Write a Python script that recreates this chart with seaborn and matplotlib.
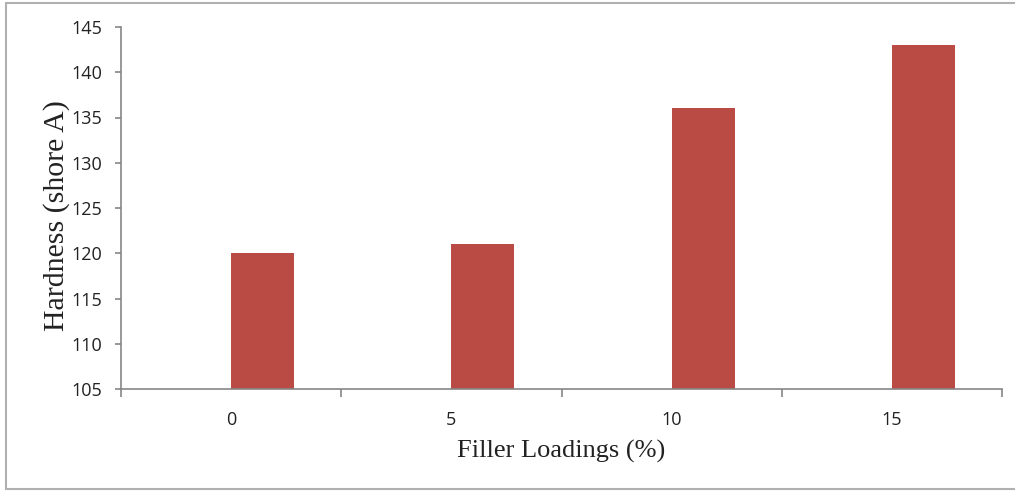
import numpy as np
import pandas as pd
import matplotlib.pyplot as plt
import seaborn as sns
from matplotlib.lines import Line2D

loadings = ['0', '5', '10', '15']
hardness = [120, 121, 136, 143]

df = pd.DataFrame({'Filler': loadings, 'Hardness': hardness, 'series': 'Hardness'})

sns.set_style('white')
fig = plt.figure(figsize=(10.15, 4.91), dpi=100)
ax = fig.add_axes([121 / 1015, 1 - 389 / 491, 881 / 1015, 362 / 491])

# empty first series so the bar sits right of the category centre (Excel look)
sns.barplot(data=df, x='Filler', y='Hardness', hue='series', dodge=True,
            hue_order=['blank', 'Hardness'], palette={'blank': 'white', 'Hardness': '#B94A44'},
            width=0.572, saturation=1, legend=False, ax=ax, linewidth=0)

ax.set_ylim(105, 145)
ax.set_yticks(np.arange(105, 146, 5))
ax.set_xlim(-0.5, 3.5)

for s in ['top', 'right']:
    ax.spines[s].set_visible(False)
for s in ['left', 'bottom']:
    ax.spines[s].set_color('#868686')
    ax.spines[s].set_linewidth(1.2)

ax.tick_params(axis='y', left=True, length=4.5, width=1.2, color='#868686', pad=9, labelsize=13)
ax.tick_params(axis='x', bottom=False, pad=12, labelsize=13)
for lab in ax.get_xticklabels() + ax.get_yticklabels():
    lab.set_fontfamily('Open Sans')
    lab.set_color('#222222')

# boundary ticks between categories
ax.set_xticks(np.arange(-0.5, 3.6, 1), minor=True)
ax.tick_params(axis='x', which='minor', bottom=True, length=6, color='#868686', width=1.2)

ax.set_xlabel('Filler Loadings (%)', family='Liberation Serif', size=19, color='#222222')
ax.set_ylabel('Hardness (shore A)', family='Liberation Serif', size=21.5, color='#222222')
ax.xaxis.set_label_coords(0.5, -0.14)
ax.yaxis.set_label_coords(-0.058, 0.48)

# outer frame
fc = '#B0B0B0'
fig.add_artist(Line2D([6 / 1015, 1], [1 - 3 / 491] * 2, color=fc, lw=1.5, transform=fig.transFigure))
fig.add_artist(Line2D([6 / 1015, 1], [1 - 489 / 491] * 2, color=fc, lw=1.5, transform=fig.transFigure))
fig.add_artist(Line2D([6 / 1015] * 2, [1 - 3 / 491, 1 - 489 / 491], color=fc, lw=1.5, transform=fig.transFigure))

fig.savefig('out.png', dpi=100)
